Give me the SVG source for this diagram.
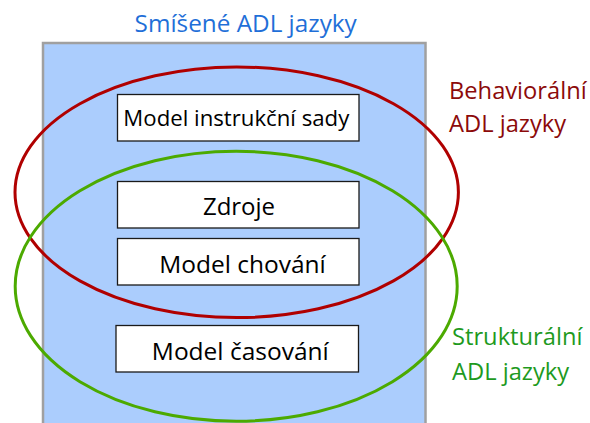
<svg xmlns="http://www.w3.org/2000/svg" width="590" height="423" viewBox="0 0 590 423">
  <style>
    text { font-family: "Open Sans", "Noto Sans", "DejaVu Sans", sans-serif; }
    .box rect { fill: #ffffff; stroke: #1a1a1a; stroke-width: 1.3; }
    .box text { font-size: 24.5px; fill: #000000; text-anchor: middle; }
    .label { font-size: 23.7px; }
    .set { fill: none; stroke-width: 3; }
  </style>

  <!-- mixed ADL languages: the outer area -->
  <g id="mixed">
    <rect x="43" y="43" width="382.5" height="400" fill="#abcdfd" stroke="#a0a0a0" stroke-width="2.5"/>
    <text x="245.7" y="32" fill="#1f6fd8" text-anchor="middle" style="font-size:24.3px">Smíšené ADL jazyky</text>
  </g>

  <g id="isa" class="box">
    <rect x="117.5" y="94.5" width="241.5" height="46.5"/>
    <text x="236.3" y="125.5" style="font-size:22.2px">Model instrukční sady</text>
  </g>
  <g id="resources" class="box">
    <rect x="117.5" y="181.5" width="241.5" height="46.5"/>
    <text x="239" y="214.5" style="font-size:24px">Zdroje</text>
  </g>
  <g id="behavior" class="box">
    <rect x="117.5" y="238.5" width="241.5" height="46.5"/>
    <text x="242.5" y="273">Model chování</text>
  </g>
  <g id="timing" class="box">
    <rect x="116" y="325.5" width="242.5" height="46.5"/>
    <text x="240.3" y="359.5">Model časování</text>
  </g>

  <!-- language families drawn as overlapping sets -->
  <g id="sets">
    <g id="behavioral">
      <ellipse class="set" cx="236.7" cy="192.3" rx="221.7" ry="125.3" stroke="#b00000"/>
      <text class="label" x="449" y="98.5" fill="#8c0a0a">Behaviorální</text>
      <text class="label" x="449" y="132" fill="#8c0a0a">ADL jazyky</text>
    </g>
    <g id="structural">
      <ellipse class="set" cx="236.2" cy="286.2" rx="221" ry="135" stroke="#4caa00"/>
      <text class="label" x="452" y="345" fill="#1e9a1e">Strukturální</text>
      <text class="label" x="452" y="379.5" fill="#1e9a1e">ADL jazyky</text>
    </g>
  </g>
</svg>
